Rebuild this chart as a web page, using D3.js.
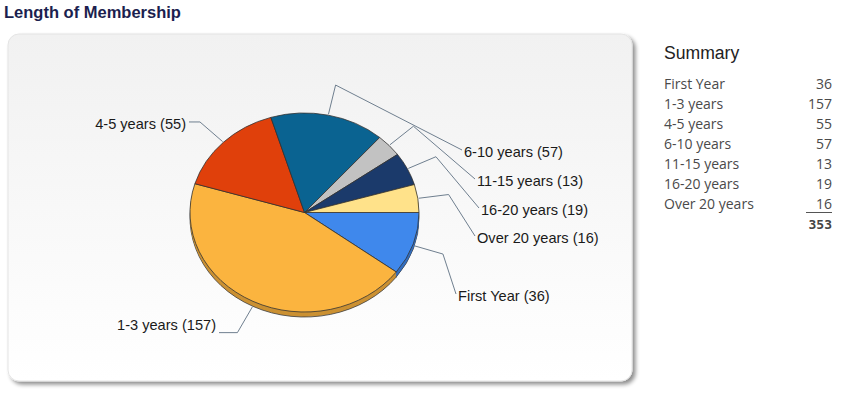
<!DOCTYPE html>
<html><head><meta charset="utf-8">
<script src="https://cdn.jsdelivr.net/npm/d3@7"></script>
<style>body{margin:0;background:#fff;}svg{display:block;}</style>
</head><body>
<svg id="c" width="850" height="393"></svg>
<script>
// ---- data ----
const categories = ["First Year","1-3 years","4-5 years","6-10 years","11-15 years","16-20 years","Over 20 years"];
const values = [36,157,55,57,13,19,16];
const colors = ["#3f88ec","#fbb43f","#e0400b","#0a6391","#c2c2c2","#1b3a6b","#ffe28a"];
const title = "Length of Membership";
const summaryTitle = "Summary";

// ---- layout ----
const cx=304.5, cy=212.5, rx=114.5, ry=99.5, depth=5;
// label anchors (layout), side: 'r' = text starts at x, 'l' = text ends at x
const labelLayout = [
  {x:457,y:296,side:"r"},
  {x:216,y:325,side:"l"},
  {x:186,y:124,side:"l"},
  {x:463,y:152,side:"r"},
  {x:476,y:181,side:"r"},
  {x:480,y:210,side:"r"},
  {x:476,y:238,side:"r"}
];

(function(){
const svg=d3.select("#c");
const defs=svg.append("defs");
const g1=defs.append("linearGradient").attr("id","bg").attr("x1",0).attr("y1",0).attr("x2",0).attr("y2",1);
g1.append("stop").attr("offset","0%").attr("stop-color","#f1f1f1");
g1.append("stop").attr("offset","100%").attr("stop-color","#ffffff");
const f=defs.append("filter").attr("id","sh").attr("x","-5%").attr("y","-5%").attr("width","110%").attr("height","115%");
f.append("feGaussianBlur").attr("in","SourceAlpha").attr("stdDeviation",2);
f.append("feOffset").attr("dx",3).attr("dy",3).attr("result","o");
f.append("feComponentTransfer").append("feFuncA").attr("type","linear").attr("slope",0.45);
const fm=f.append("feMerge"); fm.append("feMergeNode"); fm.append("feMergeNode").attr("in","SourceGraphic");

// title
svg.append("text").attr("x",4).attr("y",18).text(title)
  .attr("font-family","Liberation Sans, Arial, sans-serif").attr("font-size",16.5).attr("font-weight","bold")
  .attr("fill","#1c1f4f");

// panel
svg.append("rect").attr("x",8).attr("y",34).attr("width",624).attr("height",347).attr("rx",11)
  .attr("fill","url(#bg)").attr("stroke","#e4e4e4").attr("stroke-width",1).attr("filter","url(#sh)");

// pie
const pie=d3.pie().sort(null).startAngle(Math.PI/2).endAngle(Math.PI/2+2*Math.PI);
const arcs=pie(values);
const arc=d3.arc().innerRadius(0).outerRadius(rx);
const sy=ry/rx;

// side wall layers
for(let k=depth;k>=1;k--){
  const gk=svg.append("g").attr("transform",`translate(${cx},${cy+k}) scale(1,${sy})`);
  gk.selectAll("path").data(arcs).join("path").attr("d",arc)
   .attr("fill",(d,i)=>d3.color(colors[i]).darker(0.6))
   .attr("stroke",k===depth?"#3a3a3a":"none").attr("stroke-width",0.8).attr("vector-effect","non-scaling-stroke");
}
const topG=svg.append("g").attr("transform",`translate(${cx},${cy}) scale(1,${sy})`);
topG.selectAll("path").data(arcs).join("path").attr("d",arc)
  .attr("fill",(d,i)=>colors[i])
  .attr("stroke","#333").attr("stroke-width",0.8).attr("stroke-linejoin","round").attr("vector-effect","non-scaling-stroke");

// leader lines & labels
const lg=svg.append("g");
arcs.forEach((d,i)=>{
  const a=(d.startAngle+d.endAngle)/2;
  const s=Math.sin(a), c=-Math.cos(a);
  const front = c>0;
  const ex=cx+(rx+1)*s, ey=cy+(ry+1)*c+(front?depth*c:0);
  const len=Math.hypot(rx*s,ry*c);
  const ux=rx*s/len, uy=ry*c/len;
  const bx=ex+30*ux, by=ey+30*uy;
  const L=labelLayout[i];
  const txt=`${categories[i]} (${values[i]})`;
  let pts;
  if(L.side==="r"){ pts=[[ex,ey],[bx,by],[L.x-1,L.y-2]]; }
  else { pts=[[ex,ey],[bx,by],[L.x+3,by]]; }
  lg.append("path").attr("d",d3.line()(pts)).attr("fill","none").attr("stroke","#6f7f8f").attr("stroke-width",1);
  lg.append("text").attr("x",L.x+(L.side==="r"?1:0)).attr("y",L.y).attr("dy","0.35em")
    .attr("text-anchor",L.side==="r"?"start":"end")
    .attr("font-family","Liberation Sans, Arial, sans-serif").attr("font-size",14.6).attr("fill","#1a1a1a").text(txt);
});

// summary
const sg=svg.append("g");
sg.append("text").attr("x",664).attr("y",59).text(summaryTitle)
  .attr("font-family","Liberation Sans, Arial, sans-serif").attr("font-size",17.6).attr("fill","#222");
const rowY=d3.scalePoint().domain(categories).range([84,204]);
categories.forEach((c,i)=>{
  sg.append("text").attr("x",664).attr("y",rowY(c)).attr("dy","0.35em").text(c)
    .attr("font-family","Open Sans, sans-serif").attr("font-size",14).attr("fill","#4a4a4a");
  sg.append("text").attr("x",832).attr("y",rowY(c)).attr("dy","0.35em").attr("text-anchor","end").text(values[i])
    .attr("font-family","Open Sans, sans-serif").attr("font-size",14).attr("fill","#4a4a4a");
});
sg.append("line").attr("x1",806).attr("x2",832).attr("y1",212.5).attr("y2",212.5).attr("stroke","#555").attr("stroke-width",1);
sg.append("text").attr("x",832).attr("y",224).attr("dy","0.35em").attr("text-anchor","end").text(d3.sum(values))
  .attr("font-family","DejaVu Sans Mono, monospace").attr("font-size",13).attr("font-weight","bold").attr("fill","#444");
})();
</script>
</body></html>
